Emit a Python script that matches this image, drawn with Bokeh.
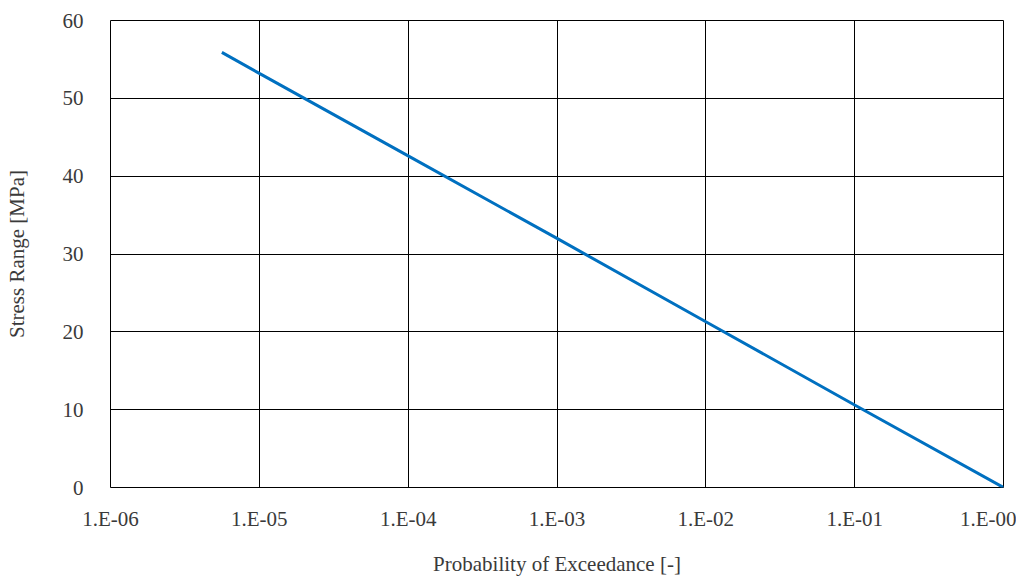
from bokeh.plotting import figure
from bokeh.models import FixedTicker, CustomJSTickFormatter, Range1d
from bokeh.embed import file_html
from bokeh.resources import INLINE

probability = [5.6e-6, 1e-5, 1e-4, 1e-3, 1e-2, 1e-1, 1.0]
stress = [55.9, 53.2, 42.6, 32.0, 21.3, 10.6, 0.0]
x_ticks = [1e-6, 1e-5, 1e-4, 1e-3, 1e-2, 1e-1, 1.0]
x_tick_labels = ["1.E-06", "1.E-05", "1.E-04", "1.E-03", "1.E-02", "1.E-01", "1.E-00"]
y_ticks = [0, 10, 20, 30, 40, 50, 60]

FONT = "'Liberation Serif', 'Times New Roman', serif"
TXT = "#3a3a3a"
FS = "21px"

p = figure(width=1016, height=578, x_axis_type="log", output_backend="svg",
           toolbar_location=None, x_range=Range1d(1e-6, 1.0), y_range=Range1d(0, 60),
           min_border_left=110, min_border_right=13, min_border_top=20, min_border_bottom=91)

p.line(probability, stress, line_color="#0070C0", line_width=3)

p.outline_line_color = "black"
p.outline_line_width = 1

for ax in (p.xaxis[0], p.yaxis[0]):
    ax.axis_line_color = None
    ax.major_tick_line_color = None
    ax.minor_tick_line_color = None
    ax.major_tick_out = 0
    ax.major_tick_in = 0
    ax.minor_tick_out = 0
    ax.major_label_text_font = FONT
    ax.major_label_text_font_size = FS
    ax.major_label_text_color = TXT
    ax.axis_label_text_font = FONT
    ax.axis_label_text_font_size = FS
    ax.axis_label_text_color = TXT
    ax.axis_label_text_font_style = "normal"

p.xaxis.ticker = FixedTicker(ticks=x_ticks, minor_ticks=[])
p.xaxis.formatter = CustomJSTickFormatter(args=dict(labels=x_tick_labels),
    code="return labels[Math.round(Math.log10(tick)) + 6];")
p.xaxis.major_label_standoff = 19
p.xaxis.axis_label = "Probability of Exceedance [-]"
p.xaxis.axis_label_standoff = 18

p.yaxis.ticker = FixedTicker(ticks=y_ticks, minor_ticks=[])
p.yaxis.major_label_standoff = 27
p.yaxis.axis_label = "Stress Range [MPa]"
p.yaxis.axis_label_standoff = 31

p.xgrid.ticker = FixedTicker(ticks=x_ticks, minor_ticks=[])
p.ygrid.ticker = FixedTicker(ticks=y_ticks, minor_ticks=[])
for g in (p.xgrid[0], p.ygrid[0]):
    g.grid_line_color = "black"
    g.grid_line_width = 1
    g.grid_line_alpha = 1.0

open("out.html", "w").write(file_html(p, INLINE))
